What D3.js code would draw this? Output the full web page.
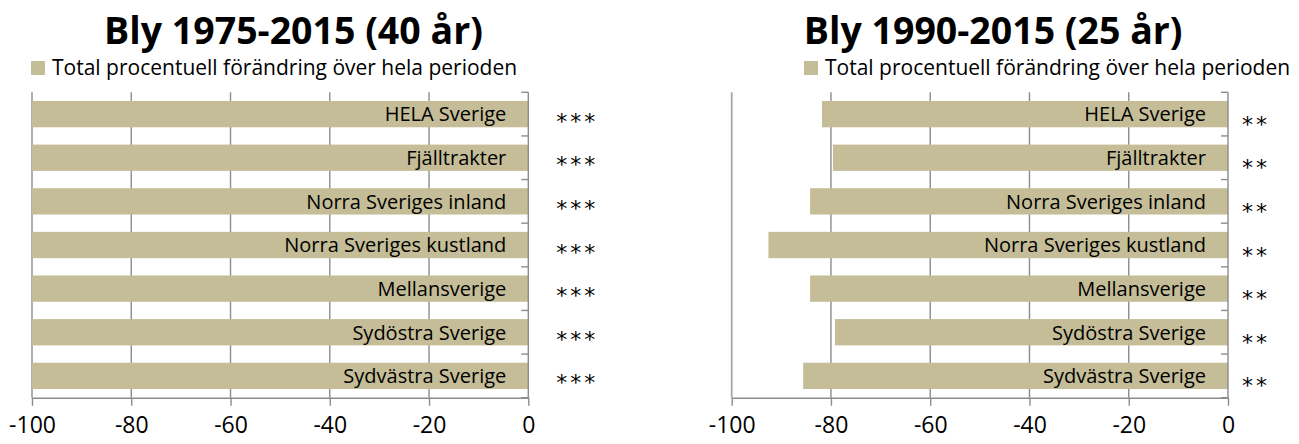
<!DOCTYPE html>
<html>
<head>
<meta charset="utf-8">
<script src="https://cdn.jsdelivr.net/npm/d3@7"></script>
<style>
	body { margin: 0; background: white; }
	svg text { font-family: "Open Sans", sans-serif; fill: black; }
	.stars { font-family: "DejaVu Sans", sans-serif !important; }
</style>
</head>
<body>
<svg id="chart" width="1299" height="444"></svg>
<script>
var categories = ["HELA Sverige", "Fjälltrakter", "Norra Sveriges inland", "Norra Sveriges kustland",
	"Mellansverige", "Sydöstra Sverige", "Sydvästra Sverige"];
var change1975 = [-100, -100, -100, -100, -100, -100, -100];
var change1990 = [-81.8, -79.6, -84.2, -92.6, -84.2, -79.2, -85.6];
var signif1975 = ["***", "***", "***", "***", "***", "***", "***"];
var signif1990 = ["**", "**", "**", "**", "**", "**", "**"];
var xTicks = [-100, -80, -60, -40, -20, 0];
var legendText = "Total procentuell förändring över hela perioden";

var barColor = "#c4bd97",
	gridColor = "#8c8c8c";

var svg = d3.select("#chart");

function drawChart(opt) {
	var g = svg.append("g").attr("transform", "translate(" + opt.dx + ",0)");
	var x = d3.scaleLinear().domain([-100, 0]).range([32, 528.3]);
	var y = d3.scaleBand().domain(categories).range([92.3, 397.7])
		.paddingInner(0.397).paddingOuter(0.1985);
	var step = y.step();

	// title
	g.append("text")
		.attr("x", 293.5).attr("y", 43.5)
		.attr("text-anchor", "middle")
		.attr("font-weight", "bold")
		.attr("font-size", "37.5px")
		.text(opt.title);

	// legend
	g.append("rect")
		.attr("x", opt.legendX).attr("y", 61)
		.attr("width", 14).attr("height", 14)
		.attr("fill", barColor);
	g.append("text")
		.attr("x", opt.legendX + 21).attr("y", 74.5)
		.attr("font-size", "21px")
		.text(legendText);

	// gridlines
	g.append("g").selectAll("line")
		.data(xTicks.slice(0, -1))
		.join("line")
		.attr("x1", function(d) { return x(d); })
		.attr("x2", function(d) { return x(d); })
		.attr("y1", 92.3).attr("y2", 397.7)
		.attr("stroke", function(d) { return d == -100 ? "#a6a6a6" : gridColor; })
		.attr("stroke-width", function(d) { return d == -100 ? 1.8 : 1.4; });

	// bars
	g.append("g").selectAll("rect")
		.data(opt.values)
		.join("rect")
		.attr("x", function(d) { return x(d); })
		.attr("y", function(d, i) { return y(categories[i]); })
		.attr("width", function(d) { return x(0) - x(d); })
		.attr("height", y.bandwidth())
		.attr("fill", barColor);

	// bottom axis
	var axis = d3.axisBottom(x)
		.tickValues(xTicks)
		.tickFormat(function(d) { return String(d); })
		.tickSize(8)
		.tickSizeOuter(0)
		.tickPadding(11);
	var ax = g.append("g").attr("transform", "translate(0,397.7)").call(axis);
	ax.select(".domain").attr("stroke", gridColor).attr("stroke-width", 1.4);
	ax.selectAll(".tick line").attr("stroke", gridColor).attr("stroke-width", 1.4);
	ax.selectAll(".tick text")
		.attr("font-family", "Open Sans")
		.attr("font-size", "23px")
		.attr("fill", "black");

	// category axis at 0, ticks between categories pointing inwards
	g.append("line")
		.attr("x1", x(0)).attr("x2", x(0))
		.attr("y1", 92.3).attr("y2", 397.7)
		.attr("stroke", gridColor).attr("stroke-width", 1.4);
	g.append("g").selectAll("line")
		.data(d3.range(categories.length + 1))
		.join("line")
		.attr("x1", x(0) - 7).attr("x2", x(0))
		.attr("y1", function(i) { return 92.3 + i * step; })
		.attr("y2", function(i) { return 92.3 + i * step; })
		.attr("stroke", gridColor).attr("stroke-width", 1.4);

	// category labels inside the bars
	g.append("g").selectAll("text")
		.data(categories)
		.join("text")
		.attr("x", x(0) - 22)
		.attr("y", function(d) { return y(d) + y.bandwidth() / 2 + 7.3; })
		.attr("text-anchor", "end")
		.attr("font-size", "20px")
		.text(function(d) { return d; });

	// significance stars
	g.append("g").selectAll("text")
		.data(opt.stars)
		.join("text")
		.attr("class", "stars")
		.attr("x", x(0) + opt.starGap)
		.attr("y", function(d, i) { return y(categories[i]) + y.bandwidth() / 2 + opt.starDy + 8; })
		.attr("font-size", "22px")
		.attr("letter-spacing", "3px")
		.text(function(d) { return d; });
}

drawChart({ dx: 0, title: "Bly 1975-2015 (40 år)", values: change1975, stars: signif1975,
	legendX: 31, starGap: 28, starDy: 6.5 });
drawChart({ dx: 699.7, title: "Bly 1990-2015 (25 år)", values: change1990, stars: signif1990,
	legendX: 104.3, starGap: 14, starDy: 9.5 });
</script>
</body>
</html>
